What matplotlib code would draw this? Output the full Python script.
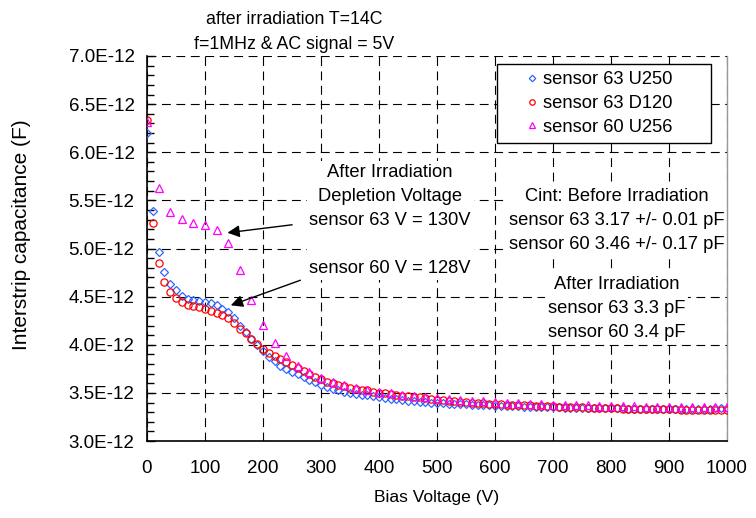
import numpy as np
import matplotlib
matplotlib.use("Agg")
import matplotlib.pyplot as plt
from matplotlib.ticker import MultipleLocator, FuncFormatter

plt.rcParams['font.family'] = ['Liberation Sans', 'DejaVu Sans']

# ---------------- data (capacitance in units of 1E-12 F) ----------------
volt_10 = list(range(0, 1001, 10))
volt_20 = list(range(0, 1001, 20))

u250 = [6.195, 5.390, 4.960, 4.755, 4.632, 4.567, 4.510, 4.478, 4.466, 4.458,
        4.443, 4.430, 4.409, 4.372, 4.338, 4.280, 4.194, 4.129, 4.056, 3.997,
        3.935, 3.875, 3.828, 3.782, 3.751, 3.720, 3.693, 3.661, 3.633, 3.610,
        3.581, 3.564, 3.543, 3.530, 3.512, 3.498, 3.488, 3.481, 3.475, 3.467,
        3.457, 3.447, 3.440, 3.432, 3.425, 3.420, 3.414, 3.408, 3.404, 3.400,
        3.396, 3.392, 3.389, 3.386, 3.383, 3.380, 3.377, 3.375, 3.372, 3.370,
        3.368, 3.366, 3.364, 3.362, 3.360, 3.358, 3.357, 3.355, 3.353, 3.352,
        3.350, 3.349, 3.347, 3.346, 3.345, 3.344, 3.343, 3.342, 3.341, 3.340,
        3.339, 3.338, 3.338, 3.337, 3.337, 3.336, 3.336, 3.335, 3.335, 3.335,
        3.334, 3.334, 3.334, 3.334, 3.335, 3.335, 3.336, 3.337, 3.338, 3.340,
        3.345]

d120 = [6.330, 5.270, 4.845, 4.650, 4.550, 4.490, 4.447, 4.412, 4.400, 4.388,
        4.367, 4.350, 4.332, 4.305, 4.277, 4.222, 4.166, 4.118, 4.062, 4.007,
        3.958, 3.917, 3.883, 3.852, 3.820, 3.789, 3.758, 3.730, 3.696, 3.661,
        3.641, 3.616, 3.599, 3.581, 3.570, 3.553, 3.537, 3.530, 3.526, 3.512,
        3.500, 3.495, 3.488, 3.480, 3.472, 3.466, 3.458, 3.452, 3.446, 3.438,
        3.430, 3.425, 3.420, 3.414, 3.410, 3.405, 3.400, 3.397, 3.393, 3.389,
        3.385, 3.382, 3.379, 3.377, 3.374, 3.371, 3.369, 3.366, 3.364, 3.362,
        3.360, 3.357, 3.355, 3.353, 3.351, 3.349, 3.347, 3.345, 3.343, 3.341,
        3.339, 3.338, 3.337, 3.336, 3.335, 3.334, 3.333, 3.332, 3.331, 3.330,
        3.329, 3.328, 3.327, 3.326, 3.325, 3.324, 3.323, 3.322, 3.321, 3.320,
        3.320]

u256 = [6.315, 5.627, 5.381, 5.305, 5.264, 5.243, 5.191, 5.059, 4.780, 4.468,
        4.205, 4.020, 3.883, 3.780, 3.713, 3.657, 3.610, 3.578, 3.553, 3.533,
        3.512, 3.495, 3.482, 3.470, 3.458, 3.447, 3.437, 3.428, 3.420, 3.412,
        3.405, 3.399, 3.393, 3.388, 3.383, 3.379, 3.375, 3.372, 3.369, 3.366,
        3.364, 3.362, 3.360, 3.358, 3.356, 3.355, 3.354, 3.353, 3.352, 3.352,
        3.352]

series_labels = ['sensor 63 U250', 'sensor 63 D120', 'sensor 60 U256']

title_text = "after irradiation T=14C\nf=1MHz & AC signal = 5V"
note_depletion = ("After Irradiation\nDepletion Voltage\nsensor 63 V = 130V\n\n"
                  "sensor 60 V = 128V")
note_before = "Cint: Before Irradiation\nsensor 63 3.17 +/- 0.01 pF\nsensor 60 3.46 +/- 0.17 pF"
note_after = "After Irradiation\nsensor 63 3.3 pF\nsensor 60 3.4 pF"

# ---------------- figure ----------------
W, H = 756, 518
fig = plt.figure(figsize=(W / 100, H / 100), dpi=100)
ax = fig.add_axes([147 / W, 1 - 441 / H, 580 / W, 385 / H])

FS = 13.2
blue = '#3366FF'
red = '#FF0000'
mag = '#FF00FF'

ax.plot(volt_10, u250, linestyle='none', marker='D', ms=4.4, mfc='none',
        mec=blue, mew=0.9, label=series_labels[0], zorder=3)
ax.plot(volt_10, d120, linestyle='none', marker='o', ms=5.2, mfc='none',
        mec=red, mew=0.9, label=series_labels[1], zorder=3)
ax.plot(volt_20, u256, linestyle='none', marker='^', ms=5.8, mfc='none',
        mec=mag, mew=0.9, label=series_labels[2], zorder=3)

ax.set_xlim(0, 1000)
ax.set_ylim(3.0, 7.0)
ax.xaxis.set_major_locator(MultipleLocator(100))
ax.yaxis.set_major_locator(MultipleLocator(0.5))
ax.yaxis.set_minor_locator(MultipleLocator(0.1))
ax.yaxis.set_major_formatter(FuncFormatter(lambda v, p: f"{v:.1f}E-12"))

ax.grid(True, which='major', color='black', linestyle=(0, (8, 5)), linewidth=0.8, zorder=0)
ax.set_axisbelow(True)

ax.spines['top'].set_visible(False)
ax.spines['right'].set_color('#999999')
ax.spines['right'].set_linewidth(1.0)
ax.spines['left'].set_linewidth(1.2)
ax.spines['bottom'].set_linewidth(1.2)

ax.tick_params(axis='both', which='major', direction='in', length=0, labelsize=13.5)
ax.tick_params(axis='y', which='major', direction='in', length=6, width=1, pad=9)
ax.tick_params(axis='y', which='minor', direction='in', length=5, width=1)
ax.tick_params(axis='x', which='major', pad=14)

ax.set_xlabel('Bias Voltage (V)', fontsize=12.6, labelpad=9)
fig.text(22 / W, 1 - 235 / H, 'Interstrip capacitance (F)', rotation=90,
         ha='center', va='center', fontsize=15)

fig.text(294 / W, 1 - 32 / H, title_text, ha='center', va='center',
         fontsize=12.8, linespacing=1.6)

box = dict(facecolor='white', edgecolor='none', pad=2)
ax.text(419, 5.29, note_depletion, ha='center', va='center', fontsize=FS,
        multialignment='center', linespacing=1.55, bbox=box, zorder=2)
ax.text(810, 5.29, note_before, ha='center', va='center', fontsize=FS,
        multialignment='center', linespacing=1.55, bbox=box, zorder=2)
ax.text(810, 4.38, note_after, ha='center', va='center', fontsize=FS,
        multialignment='center', linespacing=1.55, bbox=box, zorder=2)

arrow = dict(arrowstyle='-|>', color='black', lw=1.0, mutation_scale=18)
ax.annotate('', xy=(134, 5.16), xytext=(255, 5.25), arrowprops=arrow, zorder=4)
ax.annotate('', xy=(140, 4.40), xytext=(269, 4.68), arrowprops=arrow, zorder=4)

leg = ax.legend(loc='upper left',
                bbox_to_anchor=(497 / W, 1 - 140 / H, 214 / W, 76 / H),
                bbox_transform=fig.transFigure, mode='expand', borderaxespad=0,
                fontsize=FS, frameon=True, fancybox=False, framealpha=1,
                edgecolor='black', markerscale=0.75, handlelength=3.0,
                handletextpad=-0.9, borderpad=0.4, labelspacing=0.36)
leg.get_frame().set_linewidth(1.0)

fig.savefig('out.png', dpi=100)
